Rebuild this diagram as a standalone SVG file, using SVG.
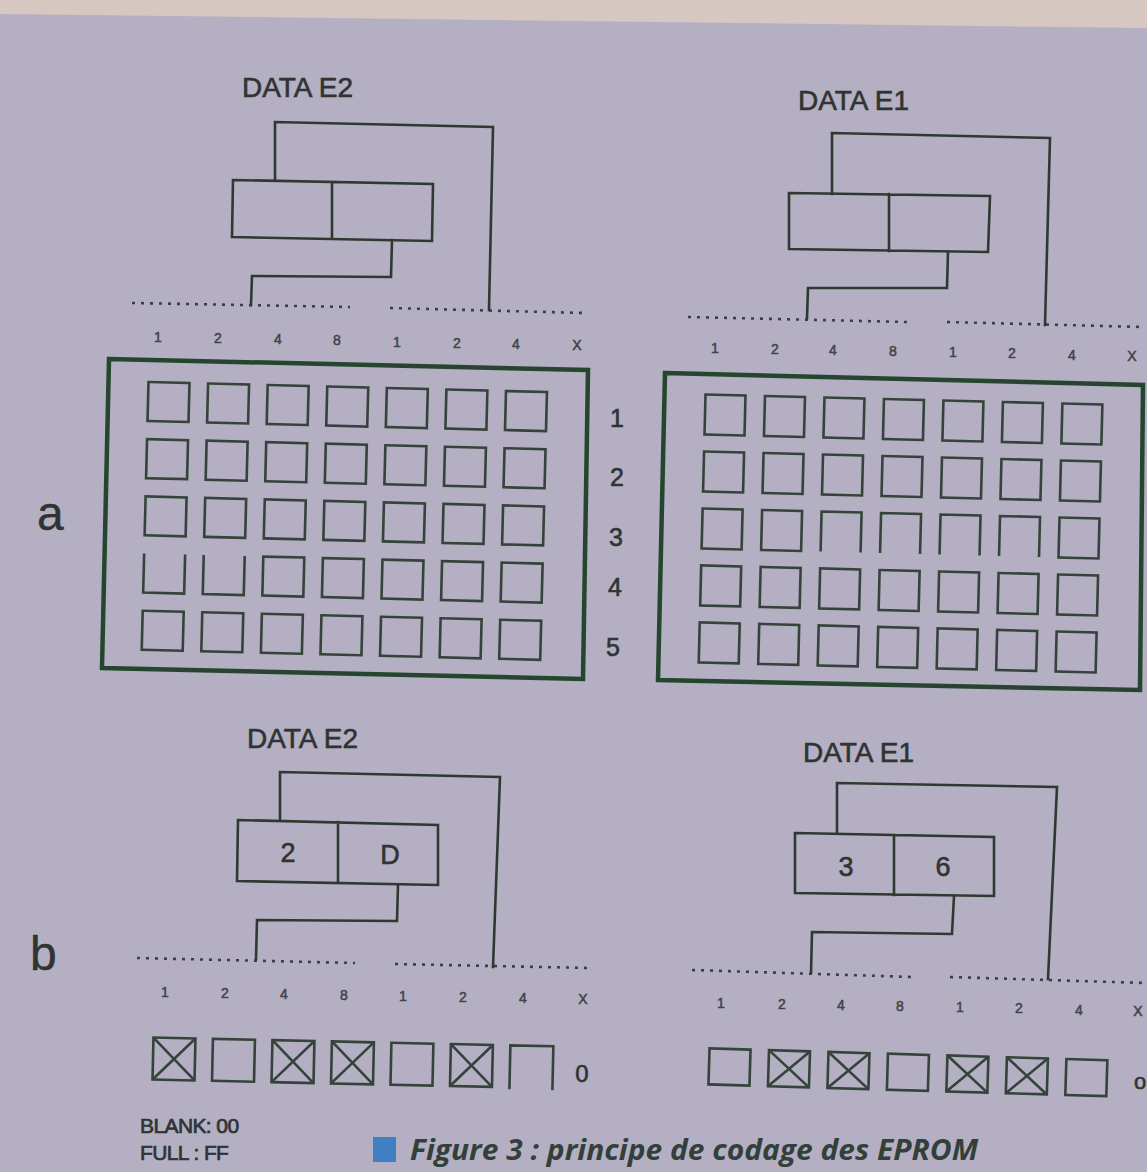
<svg xmlns="http://www.w3.org/2000/svg" xmlns:xlink="http://www.w3.org/1999/xlink" width="1147" height="1172" viewBox="0 0 1147 1172">
<style>
.ln{fill:none;stroke:#2e3a31;stroke-width:2.6;stroke-linejoin:miter;stroke-linecap:square}
.dot{fill:none;stroke:#3a3f44;stroke-width:2.6;stroke-dasharray:3 6}
.frame{fill:none;stroke:#25452f;stroke-width:4.5;stroke-linejoin:miter}
.cell{fill:none;stroke:#34443a;stroke-width:2.6}
.t{font-family:"Liberation Sans",Arial,sans-serif;fill:#2f3432;stroke:#2f3432;stroke-width:0.6}
.title{font-size:28px}
.bit{font-size:14px;fill:#404448;stroke:#404448;stroke-width:0.5;text-anchor:middle}
.row{font-size:25px;text-anchor:middle}
.val{font-size:27px;text-anchor:middle}
.big{font-size:48px;stroke-width:0.4}
.leg{font-size:21px;letter-spacing:-0.6px;stroke-width:0.7}
.cap{font-family:"Open Sans","Noto Sans",sans-serif;font-weight:bold;font-style:italic;font-size:28px;fill:#33403a}
</style>
<defs>
<rect id="cL" class="cell" width="41" height="39"/>
<rect id="cR" class="cell" width="40" height="40"/>
<g id="sqL"><rect class="cell" width="42" height="42"/></g>
<g id="xL"><rect class="cell" width="42" height="42"/><path class="cell" d="M0,0 L42,42 M42,0 L0,42"/></g>
<g id="sqR"><rect class="cell" width="41" height="36"/></g>
<g id="xR"><rect class="cell" width="41" height="36"/><path class="cell" d="M0,0 L41,36 M41,0 L0,36"/></g>
</defs>

<!-- background -->
<rect width="1147" height="1172" fill="#b4afc3"/>
<polygon points="0,0 1147,0 1147,28 0,14" fill="#d6c8c0"/>

<!-- panel labels -->
<text class="t big" x="37" y="530">a</text>
<text class="t big" x="30" y="970">b</text>

<!-- ===== Panel a / DATA E2 ===== -->
<g id="a-e2-display">
<text class="t title" x="242" y="97">DATA E2</text>
<path class="ln" d="M233,180 L433,184 L432,241 L232,237 Z M332,182 L332,239"/>
</g>
<g id="a-e2-bits">
<path class="dot" d="M132,303 L350,307 M390,308 L585,313"/>
<text class="t bit" x="158" y="342">1</text>
<text class="t bit" x="218" y="343">2</text>
<text class="t bit" x="278" y="344">4</text>
<text class="t bit" x="337" y="345">8</text>
<text class="t bit" x="397" y="347">1</text>
<text class="t bit" x="457" y="348">2</text>
<text class="t bit" x="516" y="349">4</text>
<text class="t bit" x="577" y="350">X</text>
</g>

<!-- ===== Panel a / DATA E1 ===== -->
<g id="a-e1-display">
<text class="t title" x="798" y="110">DATA E1</text>
<path class="ln" d="M789,193 L990,196 L988,252 L789,249 Z M889,194 L889,251"/>
</g>
<g id="a-e1-bits">
<path class="dot" d="M688,317 L907,322 M947,322 L1143,327"/>
<text class="t bit" x="715" y="353">1</text>
<text class="t bit" x="775" y="354">2</text>
<text class="t bit" x="833" y="355">4</text>
<text class="t bit" x="893" y="356">8</text>
<text class="t bit" x="953" y="357">1</text>
<text class="t bit" x="1012" y="358">2</text>
<text class="t bit" x="1072" y="360">4</text>
<text class="t bit" x="1132" y="361">X</text>
</g>

<!-- ===== Grid a left ===== -->
<g id="grid-a-left">
<polygon class="frame" points="109,359 588,370 583,679 102,668"/>
<g transform="translate(168,402) rotate(1.45)">
<use href="#cL" x="-20" y="-19.5"/><use href="#cL" x="39.6" y="-19.5"/><use href="#cL" x="99.2" y="-19.5"/><use href="#cL" x="158.8" y="-19.5"/><use href="#cL" x="218.4" y="-19.5"/><use href="#cL" x="278" y="-19.5"/><use href="#cL" x="337.6" y="-19.5"/>
<use href="#cL" x="-20" y="37.7"/><use href="#cL" x="39.6" y="37.7"/><use href="#cL" x="99.2" y="37.7"/><use href="#cL" x="158.8" y="37.7"/><use href="#cL" x="218.4" y="37.7"/><use href="#cL" x="278" y="37.7"/><use href="#cL" x="337.6" y="37.7"/>
<use href="#cL" x="-20" y="94.9"/><use href="#cL" x="39.6" y="94.9"/><use href="#cL" x="99.2" y="94.9"/><use href="#cL" x="158.8" y="94.9"/><use href="#cL" x="218.4" y="94.9"/><use href="#cL" x="278" y="94.9"/><use href="#cL" x="337.6" y="94.9"/>
<path class="cell" d="M-20,152.1 V191.1 H21 V152.1 M39.6,152.1 V191.1 H80.6 V152.1"/>
<use href="#cL" x="99.2" y="152.1"/><use href="#cL" x="158.8" y="152.1"/><use href="#cL" x="218.4" y="152.1"/><use href="#cL" x="278" y="152.1"/><use href="#cL" x="337.6" y="152.1"/>
<use href="#cL" x="-20" y="209.3"/><use href="#cL" x="39.6" y="209.3"/><use href="#cL" x="99.2" y="209.3"/><use href="#cL" x="158.8" y="209.3"/><use href="#cL" x="218.4" y="209.3"/><use href="#cL" x="278" y="209.3"/><use href="#cL" x="337.6" y="209.3"/>
</g>
<text class="t row" x="617" y="427">1</text>
<text class="t row" x="617" y="486">2</text>
<text class="t row" x="616" y="546">3</text>
<text class="t row" x="615" y="596">4</text>
<text class="t row" x="613" y="656">5</text>
</g>

<!-- ===== Grid a right ===== -->
<g id="grid-a-right">
<polygon class="frame" points="665,373 1143,385 1140,690 658,680"/>
<g transform="translate(725,415) rotate(1.45)">
<use href="#cR" x="-20" y="-20"/><use href="#cR" x="39.5" y="-20"/><use href="#cR" x="99" y="-20"/><use href="#cR" x="158.5" y="-20"/><use href="#cR" x="218" y="-20"/><use href="#cR" x="277.5" y="-20"/><use href="#cR" x="337" y="-20"/>
<use href="#cR" x="-20" y="37"/><use href="#cR" x="39.5" y="37"/><use href="#cR" x="99" y="37"/><use href="#cR" x="158.5" y="37"/><use href="#cR" x="218" y="37"/><use href="#cR" x="277.5" y="37"/><use href="#cR" x="337" y="37"/>
<use href="#cR" x="-20" y="94"/><use href="#cR" x="39.5" y="94"/>
<path class="cell" d="M99,134 V94 H139 V134 M158.5,134 V94 H198.5 V134 M218,134 V94 H258 V134 M277.5,134 V94 H317.5 V134"/>
<use href="#cR" x="337" y="94"/>
<use href="#cR" x="-20" y="151"/><use href="#cR" x="39.5" y="151"/><use href="#cR" x="99" y="151"/><use href="#cR" x="158.5" y="151"/><use href="#cR" x="218" y="151"/><use href="#cR" x="277.5" y="151"/><use href="#cR" x="337" y="151"/>
<use href="#cR" x="-20" y="208"/><use href="#cR" x="39.5" y="208"/><use href="#cR" x="99" y="208"/><use href="#cR" x="158.5" y="208"/><use href="#cR" x="218" y="208"/><use href="#cR" x="277.5" y="208"/><use href="#cR" x="337" y="208"/>
</g>
</g>

<!-- ===== Panel b / DATA E2 ===== -->
<g id="b-e2-display">
<text class="t title" x="247" y="748">DATA E2</text>
<path class="ln" d="M238,820 L438,825 L438,885 L237,881 Z M338,822 L338,883"/>
<text class="t val" x="288" y="862">2</text>
<text class="t val" x="390" y="864">D</text>
</g>
<g id="b-e2-bits">
<path class="dot" d="M137,958 L355,963 M395,964 L590,968"/>
<text class="t bit" x="165" y="997">1</text>
<text class="t bit" x="225" y="998">2</text>
<text class="t bit" x="284" y="999">4</text>
<text class="t bit" x="344" y="1000">8</text>
<text class="t bit" x="403" y="1001">1</text>
<text class="t bit" x="463" y="1002">2</text>
<text class="t bit" x="523" y="1003">4</text>
<text class="t bit" x="583" y="1004">X</text>
</g>
<g id="b-e2-cells">
<g transform="translate(174,1059) rotate(1.25)">
<use href="#xL" x="-21" y="-21"/>
<use href="#sqL" x="38.5" y="-21"/>
<use href="#xL" x="98" y="-21"/>
<use href="#xL" x="157.5" y="-21"/>
<use href="#sqL" x="217" y="-21"/>
<use href="#xL" x="276.5" y="-21"/>
<path class="cell" d="M336,23 V-21 H379 V23"/>
</g>
<text class="t" x="582" y="1082" font-size="24" text-anchor="middle">0</text>
</g>

<!-- ===== Panel b / DATA E1 ===== -->
<g id="b-e1-display">
<text class="t title" x="803" y="762">DATA E1</text>
<path class="ln" d="M795,833 L994,837 L994,896 L795,893 Z M894,835 L894,895"/>
<text class="t val" x="846" y="876">3</text>
<text class="t val" x="943" y="876">6</text>
</g>
<g id="b-e1-bits">
<path class="dot" d="M692,970 L912,977 M950,977 L1145,983"/>
<text class="t bit" x="721" y="1008">1</text>
<text class="t bit" x="782" y="1009">2</text>
<text class="t bit" x="841" y="1010">4</text>
<text class="t bit" x="900" y="1011">8</text>
<text class="t bit" x="960" y="1012">1</text>
<text class="t bit" x="1019" y="1013">2</text>
<text class="t bit" x="1079" y="1015">4</text>
<text class="t bit" x="1138" y="1016">X</text>
</g>
<g id="b-e1-cells">
<g transform="translate(729.5,1067) rotate(1.7)">
<use href="#sqR" x="-20.5" y="-18"/>
<use href="#xR" x="39" y="-18"/>
<use href="#xR" x="98.5" y="-18"/>
<use href="#sqR" x="158" y="-18"/>
<use href="#xR" x="217.5" y="-18"/>
<use href="#xR" x="277" y="-18"/>
<use href="#sqR" x="336.5" y="-18"/>
</g>
<text class="t" x="1140" y="1089" font-size="22" text-anchor="middle">o</text>
</g>

<!-- ===== connectors ===== -->
<g id="connectors">
<path class="ln" d="M275,180 L275,122 L493,127 L489,310"/>
<path class="ln" d="M392,240 L391,277 L252,276 L251,305"/>
<path class="ln" d="M832,194 L832,133 L1050,138 L1045,325"/>
<path class="ln" d="M948,252 L947,288 L808,288 L807,318"/>
<path class="ln" d="M280,820 L280,772 L500,777 L493,967"/>
<path class="ln" d="M398,885 L397,921 L257,920 L256,959"/>
<path class="ln" d="M837,833 L837,783 L1057,787 L1048,979"/>
<path class="ln" d="M954,896 L952,934 L812,932 L811,973"/>
</g>

<!-- legend and caption -->
<g id="legend">
<text class="t leg" x="140" y="1133">BLANK: 00</text>
<text class="t leg" x="140" y="1160">FULL : FF</text>
</g>
<g id="caption">
<rect x="373" y="1137" width="23" height="25" fill="#3f7fc2"/>
<text class="cap" x="410" y="1160" textLength="568" lengthAdjust="spacingAndGlyphs">Figure 3 : principe de codage des EPROM</text>
</g>
</svg>
